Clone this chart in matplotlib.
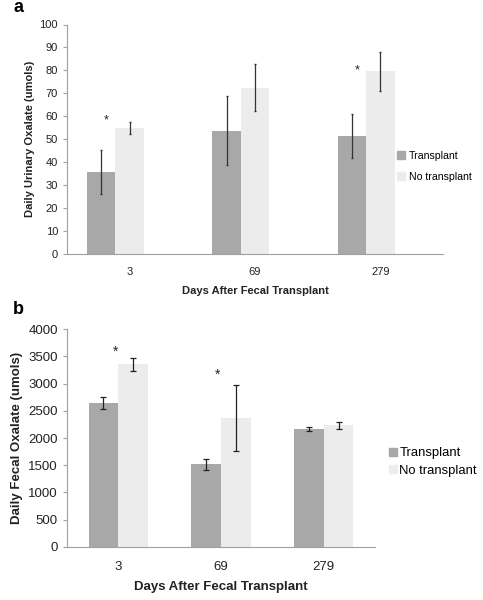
import matplotlib
matplotlib.use("Agg")
import matplotlib.pyplot as plt
import numpy as np
from matplotlib.patches import Patch

plt.rcParams['font.family'] = ['Liberation Sans', 'DejaVu Sans']

days = ["3", "69", "279"]
series_names = ["Transplant", "No transplant"]

# Panel a: daily urinary oxalate
urine_transplant = [35.5, 53.6, 51.3]
urine_transplant_err = [9.5, 15.0, 9.4]
urine_none = [54.8, 72.4, 79.6]
urine_none_err = [2.5, 10.3, 8.6]
urine_star_idx = [0, 2]
urine_star_y = [58.0, 80.0]

# Panel b: daily fecal oxalate
fecal_transplant = [2640, 1520, 2160]
fecal_transplant_err = [110, 100, 40]
fecal_none = [3355, 2370, 2230]
fecal_none_err = [125, 610, 60]
fecal_star_idx = [0, 1]
fecal_star_y = [3590, 3160]

c_tr = "#a8a8a8"
c_no = "#ececec"
spine_c = "#a0a0a0"
txt_c = "#222222"

fig = plt.figure(figsize=(4.83, 6.0), dpi=100)

def style(ax, fs):
    for s in ["top", "right"]:
        ax.spines[s].set_visible(False)
    ax.spines["left"].set_color(spine_c)
    ax.spines["bottom"].set_color(spine_c)
    ax.tick_params(axis="y", colors=spine_c, labelcolor=txt_c, labelsize=fs, length=3, direction="out")
    ax.tick_params(axis="x", length=0, labelsize=fs, labelcolor=txt_c, pad=10)

# ---- Panel a
axa = fig.add_axes([67/483, 1-253.5/600, 376/483, 229/600])
x = np.arange(len(days))
w = 0.227
axa.bar(x - w, urine_transplant, width=w, color=c_tr, label=series_names[0])
axa.bar(x, urine_none, width=w, color=c_no, label=series_names[1])
axa.errorbar(x - w, urine_transplant, yerr=urine_transplant_err, fmt="none", ecolor="#333333", elinewidth=0.9, capsize=1)
axa.errorbar(x, urine_none, yerr=urine_none_err, fmt="none", ecolor="#333333", elinewidth=0.9, capsize=1)
for i, yv in zip(urine_star_idx, urine_star_y):
    axa.text(x[i] - 0.185, yv, "*", ha="center", va="center", fontsize=9, color=txt_c)
axa.set_xlim(-0.5, 2.5)
axa.set_ylim(0, 100)
axa.set_yticks(np.arange(0, 101, 10))
axa.set_xticks(x)
axa.set_xticklabels(days)
style(axa, 8)
axa.set_ylabel("Daily Urinary Oxalate (umols)", fontsize=8, fontweight="bold", color=txt_c, labelpad=3)
axa.set_xlabel("Days After Fecal Transplant", fontsize=8, fontweight="bold", color=txt_c, labelpad=6)
handles = [Patch(color=c_tr), Patch(color=c_no)]
axa.legend(handles, series_names, loc="center left", bbox_to_anchor=(397/483, 1-166.5/600),
           bbox_transform=fig.transFigure, frameon=False, fontsize=7.6,
           handlelength=0.8, handleheight=0.8, handletextpad=0.35, labelspacing=1.05,
           borderpad=0, borderaxespad=0)
fig.text(13/483, 1-8/600, "a", fontsize=13, fontweight="bold", va="center", ha="left")

# ---- Panel b
axb = fig.add_axes([67/483, 1-546.7/600, 308/483, 217.4/600])
wb = 0.29
axb.bar(x - wb/2, fecal_transplant, width=wb, color=c_tr)
axb.bar(x + wb/2, fecal_none, width=wb, color=c_no)
axb.errorbar(x - wb/2, fecal_transplant, yerr=fecal_transplant_err, fmt="none", ecolor="#222222", elinewidth=0.9, capsize=2.5, capthick=0.9)
axb.errorbar(x + wb/2, fecal_none, yerr=fecal_none_err, fmt="none", ecolor="#222222", elinewidth=0.9, capsize=2.5, capthick=0.9)
for i, yv in zip(fecal_star_idx, fecal_star_y):
    axb.text(x[i] - 0.03, yv, "*", ha="center", va="center", fontsize=10, color=txt_c)
axb.set_xlim(-0.5, 2.5)
axb.set_ylim(0, 4000)
axb.set_yticks(np.arange(0, 4001, 500))
axb.set_xticks(x)
axb.set_xticklabels(days)
style(axb, 9.5)
axb.set_ylabel("Daily Fecal Oxalate (umols)", fontsize=9.5, fontweight="bold", color=txt_c, labelpad=4)
axb.set_xlabel("Days After Fecal Transplant", fontsize=9.5, fontweight="bold", color=txt_c, labelpad=6)
axb.legend(handles, series_names, loc="center left", bbox_to_anchor=(389/483, 1-462/600),
           bbox_transform=fig.transFigure, frameon=False, fontsize=9.4,
           handlelength=0.6, handleheight=0.6, handletextpad=0.2, labelspacing=0.4,
           borderpad=0, borderaxespad=0)
fig.text(13/483, 1-309/600, "b", fontsize=13, fontweight="bold", va="center", ha="left")

fig.savefig("out.png", dpi=100)
